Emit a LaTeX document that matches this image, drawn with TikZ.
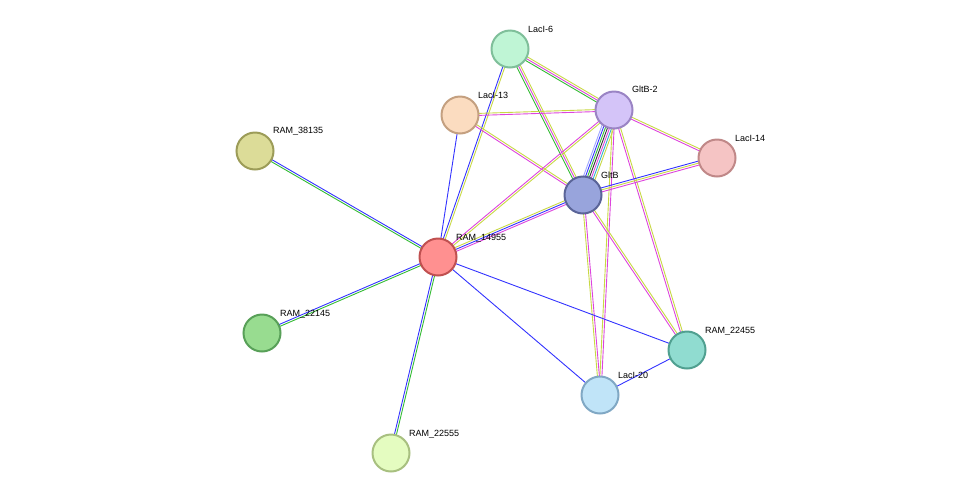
\documentclass[tikz,border=0pt]{standalone}
\usepackage{fontspec}
\setmainfont{Liberation Sans}
\usetikzlibrary{calc}
\definecolor{eb}{HTML}{3333FF}
\definecolor{eg}{HTML}{33BB33}
\definecolor{em}{HTML}{DD44DD}
\definecolor{ey}{HTML}{C8D844}
\definecolor{el}{HTML}{A0A8FF}
\definecolor{ek}{HTML}{333333}
\definecolor{ec}{HTML}{33B0D0}
\newcommand\medge[4]{%
  \foreach \c [count=\i] in {#4} {%
    \pgfmathsetmacro\off{(\i-(#3+1)/2)*2}
    \draw[\c,line width=0.9pt] ($(#1)!\off pt!90:(#2)$) -- ($(#2)!\off pt!-90:(#1)$);
  }}
\tikzset{
  prot/.style={circle,minimum size=37pt,inner sep=0pt,line width=2pt},
  lab/.style={anchor=base west,font=\fontsize{9}{10}\selectfont,inner sep=0pt}
}
\begin{document}
\begin{tikzpicture}[x=1pt,y=-1pt]
\useasboundingbox (0,0) rectangle (976,499);
\coordinate (L6) at (510,49);
\coordinate (G2) at (614,110);
\coordinate (L13) at (460,115);
\coordinate (L14) at (717,158);
\coordinate (G) at (583,195);
\coordinate (R1) at (438,257);
\coordinate (R38) at (255,151);
\coordinate (R21) at (262,333);
\coordinate (R25) at (391,453);
\coordinate (R24) at (687,350);
\coordinate (L20) at (600,395);
\medge{L6}{G2}{3}{eg,em,ey}
\medge{L6}{G}{3}{eg,em,ey}
\medge{L6}{R1}{2}{eb,ey}
\medge{L13}{G2}{2}{em,ey}
\medge{L13}{G}{2}{em,ey}
\medge{L13}{R1}{1}{eb}
\medge{G2}{G}{7}{el,eb,eg,ek,em,ec,ey}
\medge{G2}{L14}{2}{em,ey}
\medge{G2}{R1}{2}{em,ey}
\medge{G2}{L20}{2}{ey,em}
\medge{G2}{R24}{2}{em,ey}
\medge{G}{L14}{3}{em,ey,eb}
\medge{G}{R1}{3}{ey,eb,em}
\medge{G}{L20}{2}{ey,em}
\medge{G}{R24}{2}{em,ey}
\medge{R1}{R38}{2}{eb,eg}
\medge{R1}{R21}{2}{eb,eg}
\medge{R1}{R25}{2}{eb,eg}
\medge{R1}{R24}{1}{eb}
\medge{R1}{L20}{1}{eb}
\medge{L20}{R24}{1}{eb}
\node[prot,fill={rgb,255:red,191;green,245;blue,213},draw={rgb,255:red,127;green,191;blue,154}] (nL6) at (L6) {};
\node[prot,fill={rgb,255:red,212;green,196;blue,248},draw={rgb,255:red,154;green,132;blue,196}] (nG2) at (G2) {};
\node[prot,fill={rgb,255:red,251;green,220;blue,192},draw={rgb,255:red,196;green,160;blue,128}] (nL13) at (L13) {};
\node[prot,fill={rgb,255:red,245;green,196;blue,196},draw={rgb,255:red,192;green,136;blue,136}] (nL14) at (L14) {};
\node[prot,fill={rgb,255:red,152;green,164;blue,220},draw={rgb,255:red,90;green,100;blue,152}] (nG) at (G) {};
\node[prot,fill={rgb,255:red,255;green,144;blue,144},draw={rgb,255:red,192;green,80;blue,80}] (nR1) at (R1) {};
\node[prot,fill={rgb,255:red,220;green,220;blue,152},draw={rgb,255:red,156;green,156;blue,88}] (nR38) at (R38) {};
\node[prot,fill={rgb,255:red,152;green,220;blue,144},draw={rgb,255:red,88;green,160;blue,88}] (nR21) at (R21) {};
\node[prot,fill={rgb,255:red,228;green,252;blue,192},draw={rgb,255:red,168;green,192;blue,128}] (nR25) at (R25) {};
\node[prot,fill={rgb,255:red,144;green,220;blue,208},draw={rgb,255:red,80;green,160;blue,144}] (nR24) at (R24) {};
\node[prot,fill={rgb,255:red,192;green,228;blue,248},draw={rgb,255:red,128;green,168;blue,196}] (nL20) at (L20) {};
\node[lab] (tL6) at (528,32) {LacI-6};
\node[lab] (tG2) at (632,92) {GltB-2};
\node[lab] (tL13) at (478,98) {LacI-13};
\node[lab] (tL14) at (735,141) {LacI-14};
\node[lab] (tG) at (601,178) {GltB};
\node[lab] (tR1) at (456,240) {RAM\_14955};
\node[lab] (tR38) at (273,133) {RAM\_38135};
\node[lab] (tR21) at (280,316) {RAM\_22145};
\node[lab] (tR25) at (409,436) {RAM\_22555};
\node[lab] (tR24) at (705,333) {RAM\_22455};
\node[lab] (tL20) at (618,378) {LacI-20};
\end{tikzpicture}
\end{document}
